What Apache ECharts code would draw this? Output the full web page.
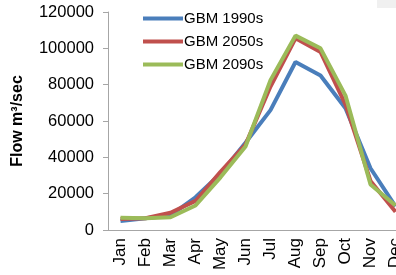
<!DOCTYPE html>
<html>
<head>
<meta charset="utf-8">
<script src="https://cdn.jsdelivr.net/npm/echarts@6/dist/echarts.min.js"></script>
<style>
  html, body { margin: 0; padding: 0; background: #fff; }
  #chart { width: 396px; height: 275px; }
</style>
</head>
<body>
<div id="chart"></div>
<script>
// months on the x axis
var months = ['Jan', 'Feb', 'Mar', 'Apr', 'May', 'Jun', 'Jul', 'Aug', 'Sep', 'Oct', 'Nov', 'Dec'];
// flow, m3/sec
var gbm1990s = [5000, 6500, 8000, 18000, 31000, 48000, 66000, 92500, 85000, 67000, 34000, 13000];
var gbm2050s = [6000, 6500, 9500, 16000, 32000, 47000, 79000, 105500, 98000, 69000, 27000, 10000];
var gbm2090s = [6800, 6500, 7000, 13500, 29000, 46000, 82500, 107000, 100000, 74000, 25000, 13500];
var seriesNames = ['GBM 1990s', 'GBM 2050s', 'GBM 2090s'];
var colors = ['#4a7ebb', '#c0504d', '#9bbb59'];

var chart = echarts.init(document.getElementById('chart'));

var font = 'Liberation Sans, Arial, sans-serif';

var option = {
  backgroundColor: '#ffffff',
  color: colors,
  animation: false,
  grid: {
    left: 108,
    top: 12,
    bottom: 45,
    right: -12,
    containLabel: false,
    outerBoundsMode: 'none'
  },
  legend: {
    orient: 'vertical',
    left: 138,
    top: 6,
    itemWidth: 40,
    itemHeight: 4,
    itemGap: 8,
    icon: 'rect',
    textStyle: { fontFamily: font, fontSize: 15, color: '#000', padding: [0, 0, 0, -4] },
    data: seriesNames
  },
  xAxis: {
    type: 'category',
    data: months,
    boundaryGap: true,
    axisLine: { lineStyle: { color: '#a6a6a6', width: 1 } },
    axisTick: { alignWithLabel: false, length: 5, lineStyle: { color: '#a6a6a6' } },
    axisLabel: {
      rotate: 90,
      interval: 0,
      margin: 8,
      fontFamily: font,
      fontSize: 17,
      color: '#000'
    }
  },
  yAxis: {
    type: 'value',
    min: 0,
    max: 120000,
    interval: 20000,
    name: 'Flow m³/sec',
    nameLocation: 'middle',
    nameGap: 82,
    nameTextStyle: { fontFamily: font, fontSize: 16, fontWeight: 'bold', color: '#000' },
    splitLine: { show: false },
    axisLine: { show: true, lineStyle: { color: '#a6a6a6', width: 1 } },
    axisTick: { show: true, length: 5, lineStyle: { color: '#a6a6a6' } },
    axisLabel: {
      margin: 14,
      fontFamily: font,
      fontSize: 16.5,
      color: '#000',
      formatter: function (v) { return String(v); }
    }
  },
  graphic: [{
    type: 'rect',
    shape: { x: 377, y: 0, width: 19, height: 8 },
    style: { fill: '#f0f0f0' },
    z: 100
  }],
  series: [{
    name: seriesNames[0],
    type: 'line',
    data: gbm1990s,
    symbol: 'none',
    lineStyle: { width: 4 }
  }, {
    name: seriesNames[1],
    type: 'line',
    data: gbm2050s,
    symbol: 'none',
    lineStyle: { width: 4 }
  }, {
    name: seriesNames[2],
    type: 'line',
    data: gbm2090s,
    symbol: 'none',
    lineStyle: { width: 4 }
  }]
};

chart.setOption(option);
</script>
</body>
</html>
